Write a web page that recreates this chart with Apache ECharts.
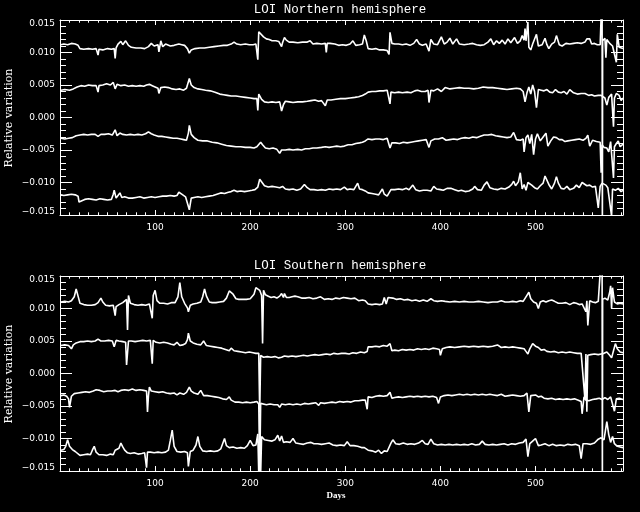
<!DOCTYPE html>
<html>
<head>
<meta charset="utf-8">
<script src="https://cdn.jsdelivr.net/npm/echarts@6/dist/echarts.min.js"></script>
<style>
html,body{margin:0;padding:0;background:#000;}
#chart{width:640px;height:512px;}
</style>
</head>
<body>
<div id="chart"></div>
<script>
// ---- Data (days, relative variation) ----
const titles = ['LOI Northern hemisphere', 'LOI Southern hemisphere'];
const yAxisTitle = 'Relative variation';
const xAxisTitle = 'Days';
const xLabelDays = [100, 200, 300, 400, 500];
const yLabelValues = [-0.015, -0.010, -0.005, 0.000, 0.005, 0.010, 0.015];

// Northern hemisphere, series 1..4 (top to bottom)
const north1 = [[1,0.0112],[4,0.0113],[8,0.0112],[12,0.0114],[16,0.0113],[19,0.0111],[21,0.0106],[25,0.0105],[30,0.0106],[34,0.0105],[38,0.0106],[40,0.0096],[41,0.0105],[45,0.0104],[50,0.0106],[54,0.0105],[57,0.0106],[58,0.0091],[59,0.0107],[61,0.0113],[64,0.0117],[66,0.0112],[69,0.0118],[72,0.0111],[75,0.0108],[80,0.0107],[85,0.0107],[89,0.0106],[93,0.0109],[96,0.0114],[99,0.0110],[103,0.0112],[104,0.0101],[106,0.0118],[108,0.0109],[111,0.0113],[116,0.0110],[120,0.0111],[125,0.0113],[128,0.0112],[131,0.0111],[134,0.0106],[136,0.0099],[138,0.0104],[142,0.0106],[147,0.0107],[152,0.0107],[157,0.0108],[162,0.0109],[167,0.0110],[172,0.0111],[176,0.0111],[180,0.0113],[183,0.0116],[186,0.0113],[190,0.0112],[195,0.0113],[199,0.0112],[203,0.0112],[206,0.0113],[208,0.0089],[209,0.0132],[211,0.0130],[214,0.0124],[217,0.0121],[220,0.0120],[223,0.0118],[227,0.0118],[230,0.0117],[233,0.0109],[234,0.0115],[236,0.0123],[238,0.0119],[241,0.0116],[245,0.0116],[250,0.0115],[255,0.0116],[260,0.0116],[263,0.0118],[266,0.0113],[270,0.0114],[275,0.0113],[279,0.0114],[280,0.0100],[281,0.0114],[284,0.0114],[289,0.0113],[293,0.0111],[297,0.0112],[301,0.0111],[305,0.0113],[308,0.0118],[311,0.0111],[315,0.0112],[318,0.0113],[320,0.0127],[322,0.0118],[324,0.0106],[328,0.0105],[332,0.0106],[336,0.0104],[340,0.0104],[344,0.0103],[346,0.0097],[347,0.0131],[349,0.0114],[352,0.0113],[356,0.0113],[360,0.0112],[364,0.0113],[368,0.0111],[372,0.0114],[375,0.0120],[378,0.0113],[381,0.0111],[385,0.0113],[388,0.0102],[390,0.0120],[393,0.0113],[397,0.0112],[401,0.0124],[404,0.0113],[407,0.0116],[410,0.0122],[413,0.0113],[417,0.0121],[420,0.0113],[425,0.0112],[430,0.0113],[434,0.0114],[438,0.0112],[442,0.0111],[446,0.0112],[450,0.0116],[453,0.0121],[456,0.0112],[459,0.0118],[462,0.0114],[465,0.0119],[468,0.0113],[471,0.0121],[474,0.0115],[478,0.0123],[481,0.0114],[484,0.0118],[486,0.0126],[488,0.0119],[489,0.0137],[490,0.0118],[492,0.0147],[493,0.0108],[495,0.0104],[497,0.0113],[499,0.0111],[501,0.0128],[503,0.0110],[505,0.0109],[507,0.0112],[510,0.0122],[512,0.0112],[514,0.0106],[517,0.0113],[520,0.0116],[522,0.0126],[525,0.0112],[528,0.0110],[532,0.0114],[536,0.0113],[540,0.0114],[544,0.0115],[548,0.0114],[552,0.0116],[554,0.0121],[557,0.0121],[559,0.0113],[562,0.0114],[565,0.0112],[568,0.0112],[570,0.0200],[570.3,-0.0200],[570.6,0.0118],[573,0.0122],[574,0.0092],[575,0.0120],[578,0.0114],[581,0.0110],[583,0.0108],[585,0.0085],[586,0.0128],[588,0.0108],[590,0.0110],[592,0.0106]];

const north2 = [[1,0.0042],[5,0.0043],[10,0.0042],[14,0.0044],[18,0.0047],[22,0.0049],[26,0.0048],[30,0.0050],[34,0.0049],[38,0.0049],[40,0.0039],[41,0.0049],[45,0.0050],[49,0.0052],[53,0.0050],[56,0.0054],[58,0.0044],[60,0.0051],[64,0.0049],[68,0.0050],[72,0.0048],[76,0.0049],[80,0.0048],[84,0.0049],[88,0.0048],[91,0.0050],[94,0.0051],[97,0.0049],[100,0.0047],[103,0.0045],[104,0.0037],[106,0.0046],[110,0.0047],[114,0.0046],[118,0.0044],[122,0.0043],[126,0.0044],[130,0.0042],[133,0.0045],[136,0.0060],[138,0.0050],[141,0.0046],[145,0.0044],[149,0.0043],[153,0.0042],[158,0.0041],[163,0.0039],[168,0.0036],[172,0.0035],[176,0.0034],[180,0.0033],[185,0.0033],[190,0.0032],[195,0.0031],[200,0.0030],[204,0.0029],[207,0.0029],[208,0.0011],[209,0.0036],[212,0.0028],[215,0.0024],[219,0.0023],[223,0.0024],[227,0.0023],[231,0.0024],[233,0.0010],[235,0.0020],[237,0.0025],[241,0.0024],[245,0.0023],[250,0.0024],[255,0.0024],[260,0.0025],[264,0.0026],[268,0.0027],[272,0.0025],[275,0.0026],[279,0.0018],[281,0.0027],[285,0.0027],[290,0.0028],[295,0.0029],[300,0.0029],[305,0.0030],[310,0.0031],[314,0.0032],[318,0.0034],[321,0.0036],[324,0.0039],[328,0.0040],[332,0.0040],[336,0.0041],[340,0.0041],[344,0.0042],[346,0.0044],[347,0.0021],[348,0.0039],[352,0.0038],[356,0.0039],[360,0.0038],[365,0.0039],[369,0.0038],[373,0.0041],[376,0.0042],[380,0.0040],[384,0.0040],[387,0.0042],[388,0.0023],[390,0.0042],[393,0.0041],[397,0.0044],[401,0.0040],[405,0.0046],[410,0.0044],[415,0.0045],[420,0.0046],[425,0.0045],[430,0.0045],[435,0.0044],[440,0.0045],[445,0.0047],[450,0.0046],[455,0.0046],[460,0.0045],[465,0.0044],[470,0.0043],[475,0.0044],[480,0.0045],[484,0.0044],[487,0.0040],[489,0.0024],[491,0.0038],[493,0.0047],[495,0.0036],[497,0.0050],[499,0.0040],[501,0.0015],[503,0.0043],[506,0.0042],[509,0.0041],[512,0.0043],[515,0.0039],[518,0.0038],[521,0.0043],[524,0.0039],[527,0.0038],[530,0.0040],[533,0.0036],[536,0.0043],[540,0.0038],[544,0.0036],[548,0.0037],[552,0.0037],[556,0.0034],[559,0.0035],[562,0.0033],[566,0.0034],[569,0.0034],[573,0.0030],[575,0.0019],[577,0.0031],[580,0.0036],[582,-0.0014],[583,0.0030],[585,0.0037],[588,0.0034],[590,0.0026],[592,0.0030]];

const north3 = [[1,-0.0032],[5,-0.0033],[9,-0.0032],[13,-0.0031],[17,-0.0028],[21,-0.0027],[25,-0.0026],[29,-0.0027],[33,-0.0026],[37,-0.0026],[40,-0.0029],[43,-0.0026],[47,-0.0026],[51,-0.0025],[55,-0.0027],[58,-0.0019],[60,-0.0028],[63,-0.0024],[66,-0.0026],[70,-0.0027],[74,-0.0026],[78,-0.0027],[82,-0.0026],[86,-0.0027],[90,-0.0025],[93,-0.0022],[96,-0.0025],[99,-0.0027],[103,-0.0029],[107,-0.0029],[111,-0.0030],[115,-0.0031],[119,-0.0032],[123,-0.0032],[127,-0.0033],[130,-0.0034],[133,-0.0035],[135,-0.0024],[136,-0.0012],[138,-0.0026],[141,-0.0031],[145,-0.0035],[150,-0.0036],[155,-0.0036],[160,-0.0038],[165,-0.0039],[170,-0.0041],[175,-0.0043],[180,-0.0044],[185,-0.0045],[190,-0.0045],[195,-0.0046],[200,-0.0046],[204,-0.0047],[207,-0.0045],[209,-0.0043],[211,-0.0038],[213,-0.0042],[216,-0.0047],[220,-0.0048],[224,-0.0047],[228,-0.0049],[231,-0.0055],[233,-0.0050],[237,-0.0050],[241,-0.0049],[245,-0.0050],[250,-0.0049],[254,-0.0050],[258,-0.0048],[262,-0.0048],[266,-0.0047],[270,-0.0047],[275,-0.0046],[279,-0.0045],[283,-0.0046],[287,-0.0045],[291,-0.0044],[295,-0.0045],[299,-0.0044],[303,-0.0042],[307,-0.0042],[311,-0.0040],[315,-0.0039],[318,-0.0038],[321,-0.0036],[324,-0.0033],[328,-0.0034],[332,-0.0033],[336,-0.0033],[340,-0.0034],[344,-0.0032],[346,-0.0031],[347,-0.0047],[349,-0.0039],[353,-0.0039],[357,-0.0040],[361,-0.0038],[365,-0.0039],[369,-0.0038],[373,-0.0037],[377,-0.0036],[381,-0.0035],[385,-0.0034],[387,-0.0037],[388,-0.0046],[390,-0.0036],[394,-0.0033],[398,-0.0033],[402,-0.0031],[406,-0.0035],[410,-0.0034],[414,-0.0033],[418,-0.0034],[422,-0.0032],[426,-0.0031],[430,-0.0032],[434,-0.0030],[438,-0.0031],[442,-0.0029],[446,-0.0027],[450,-0.0027],[454,-0.0026],[458,-0.0028],[462,-0.0029],[466,-0.0030],[470,-0.0031],[474,-0.0030],[477,-0.0023],[480,-0.0034],[484,-0.0035],[487,-0.0033],[488,-0.0053],[490,-0.0031],[492,-0.0027],[494,-0.0040],[496,-0.0026],[498,-0.0057],[500,-0.0033],[502,-0.0025],[505,-0.0036],[508,-0.0030],[511,-0.0024],[513,-0.0044],[516,-0.0036],[519,-0.0030],[522,-0.0031],[525,-0.0034],[528,-0.0034],[531,-0.0037],[534,-0.0036],[538,-0.0035],[542,-0.0034],[546,-0.0033],[550,-0.0035],[553,-0.0032],[555,-0.0027],[557,-0.0044],[560,-0.0035],[564,-0.0037],[566,-0.0036],[568,-0.0038],[569,-0.0085],[570,-0.0042],[572,-0.0046],[575,-0.0047],[577,-0.0053],[579,-0.0037],[581,-0.0036],[582,-0.0093],[583,-0.0045],[585,-0.0040],[587,-0.0036],[589,-0.0045],[592,-0.0041]];

const north4 = [[1,-0.0119],[4,-0.0120],[8,-0.0119],[12,-0.0118],[16,-0.0119],[19,-0.0121],[20,-0.0130],[22,-0.0127],[26,-0.0126],[30,-0.0125],[34,-0.0126],[38,-0.0127],[42,-0.0125],[46,-0.0126],[50,-0.0127],[54,-0.0126],[56,-0.0118],[57,-0.0112],[59,-0.0124],[61,-0.0120],[63,-0.0116],[65,-0.0123],[68,-0.0122],[70,-0.0119],[72,-0.0124],[76,-0.0124],[80,-0.0123],[84,-0.0122],[88,-0.0124],[92,-0.0123],[96,-0.0122],[100,-0.0123],[104,-0.0122],[108,-0.0121],[112,-0.0121],[116,-0.0120],[120,-0.0121],[123,-0.0120],[125,-0.0115],[128,-0.0118],[132,-0.0122],[134,-0.0123],[136,-0.0142],[138,-0.0124],[141,-0.0123],[145,-0.0122],[149,-0.0123],[153,-0.0122],[157,-0.0121],[161,-0.0120],[165,-0.0118],[169,-0.0116],[173,-0.0117],[177,-0.0115],[180,-0.0114],[183,-0.0112],[186,-0.0114],[190,-0.0113],[194,-0.0114],[198,-0.0113],[202,-0.0112],[205,-0.0111],[208,-0.0107],[210,-0.0095],[212,-0.0098],[215,-0.0105],[219,-0.0107],[223,-0.0106],[227,-0.0107],[231,-0.0108],[234,-0.0106],[237,-0.0110],[241,-0.0111],[245,-0.0110],[249,-0.0112],[253,-0.0110],[257,-0.0103],[260,-0.0108],[263,-0.0111],[267,-0.0111],[271,-0.0112],[275,-0.0111],[279,-0.0112],[283,-0.0110],[287,-0.0111],[291,-0.0110],[295,-0.0111],[299,-0.0107],[302,-0.0111],[305,-0.0110],[309,-0.0111],[313,-0.0101],[315,-0.0110],[318,-0.0111],[321,-0.0113],[324,-0.0116],[328,-0.0117],[332,-0.0118],[335,-0.0119],[337,-0.0122],[339,-0.0110],[341,-0.0118],[344,-0.0121],[346,-0.0122],[348,-0.0111],[352,-0.0111],[356,-0.0110],[360,-0.0111],[364,-0.0109],[367,-0.0111],[371,-0.0104],[374,-0.0111],[378,-0.0113],[382,-0.0112],[386,-0.0112],[390,-0.0113],[393,-0.0106],[396,-0.0110],[400,-0.0111],[403,-0.0112],[407,-0.0109],[411,-0.0109],[415,-0.0111],[419,-0.0113],[422,-0.0112],[426,-0.0114],[430,-0.0113],[434,-0.0110],[436,-0.0106],[439,-0.0111],[443,-0.0112],[446,-0.0104],[449,-0.0099],[452,-0.0108],[456,-0.0110],[460,-0.0111],[464,-0.0109],[468,-0.0110],[472,-0.0107],[475,-0.0103],[477,-0.0098],[479,-0.0105],[482,-0.0099],[484,-0.0085],[486,-0.0110],[488,-0.0103],[490,-0.0112],[492,-0.0100],[494,-0.0097],[496,-0.0104],[499,-0.0108],[502,-0.0110],[505,-0.0105],[508,-0.0101],[510,-0.0090],[512,-0.0087],[514,-0.0103],[517,-0.0110],[520,-0.0101],[522,-0.0091],[524,-0.0101],[527,-0.0109],[530,-0.0110],[533,-0.0106],[536,-0.0111],[540,-0.0109],[543,-0.0104],[546,-0.0108],[549,-0.0100],[551,-0.0103],[554,-0.0105],[557,-0.0104],[560,-0.0107],[563,-0.0106],[565,-0.0109],[566,-0.0139],[568,-0.0106],[570,-0.0101],[572,-0.0101],[574,-0.0104],[576,-0.0108],[578,-0.0110],[580,-0.0152],[581,-0.0110],[584,-0.0112],[587,-0.0109],[590,-0.0114],[592,-0.0112]];

// Southern hemisphere, series 1..4 (top to bottom)
const south1 = [[1,0.0110],[5,0.0111],[9,0.0110],[12,0.0112],[15,0.0118],[17,0.0130],[19,0.0119],[21,0.0108],[25,0.0106],[29,0.0105],[33,0.0105],[37,0.0106],[40,0.0109],[43,0.0116],[45,0.0110],[48,0.0105],[52,0.0104],[56,0.0105],[58,0.0089],[59,0.0103],[62,0.0106],[66,0.0109],[68,0.0110],[70,0.0114],[71,0.0067],[72,0.0120],[74,0.0108],[78,0.0106],[82,0.0105],[86,0.0106],[90,0.0105],[94,0.0107],[96,0.0110],[97,0.0085],[98,0.0120],[100,0.0128],[102,0.0112],[105,0.0108],[109,0.0108],[113,0.0107],[117,0.0109],[121,0.0109],[124,0.0118],[126,0.0140],[128,0.0118],[131,0.0108],[134,0.0101],[135,0.0095],[137,0.0105],[140,0.0107],[144,0.0108],[148,0.0110],[150,0.0118],[152,0.0130],[154,0.0119],[157,0.0110],[160,0.0109],[164,0.0109],[168,0.0110],[172,0.0111],[175,0.0116],[178,0.0127],[180,0.0130],[182,0.0122],[185,0.0115],[188,0.0114],[192,0.0114],[196,0.0114],[200,0.0115],[204,0.0122],[206,0.0132],[208,0.0134],[210,0.0128],[212,0.0120],[213,0.0046],[214,0.0128],[216,0.0121],[219,0.0119],[222,0.0117],[225,0.0118],[228,0.0116],[231,0.0119],[233,0.0123],[235,0.0117],[236,0.0123],[238,0.0117],[241,0.0117],[244,0.0118],[247,0.0119],[250,0.0118],[254,0.0116],[258,0.0116],[262,0.0117],[266,0.0115],[270,0.0116],[274,0.0118],[278,0.0114],[282,0.0115],[286,0.0114],[290,0.0116],[294,0.0115],[298,0.0117],[302,0.0116],[306,0.0115],[310,0.0116],[314,0.0112],[318,0.0113],[321,0.0112],[324,0.0107],[328,0.0106],[332,0.0107],[336,0.0106],[339,0.0107],[341,0.0117],[343,0.0107],[345,0.0117],[347,0.0114],[350,0.0116],[354,0.0114],[358,0.0115],[362,0.0113],[366,0.0114],[370,0.0112],[374,0.0113],[378,0.0111],[382,0.0113],[386,0.0111],[390,0.0115],[393,0.0112],[397,0.0111],[401,0.0112],[405,0.0111],[410,0.0110],[415,0.0111],[420,0.0110],[425,0.0111],[430,0.0110],[435,0.0110],[440,0.0111],[445,0.0110],[450,0.0109],[455,0.0110],[460,0.0110],[464,0.0112],[468,0.0110],[472,0.0110],[476,0.0111],[480,0.0110],[484,0.0112],[487,0.0111],[490,0.0118],[493,0.0125],[495,0.0115],[498,0.0110],[501,0.0108],[503,0.0100],[505,0.0110],[508,0.0112],[511,0.0110],[514,0.0112],[517,0.0113],[520,0.0111],[524,0.0108],[528,0.0108],[532,0.0109],[536,0.0106],[540,0.0109],[543,0.0108],[546,0.0106],[549,0.0107],[551,0.0106],[553,0.0095],[554,0.0112],[555,0.0074],[557,0.0112],[560,0.0110],[563,0.0109],[566,0.0111],[568,0.0114],[570,0.0200],[570.3,-0.0200],[570.6,0.0114],[573,0.0116],[576,0.0113],[578,0.0125],[579,0.0135],[580,0.0100],[581,0.0132],[583,0.0110],[586,0.0107],[589,0.0108],[592,0.0107]];

const south2 = [[1,0.0043],[5,0.0044],[9,0.0043],[12,0.0038],[14,0.0044],[17,0.0047],[21,0.0049],[25,0.0049],[29,0.0050],[33,0.0049],[37,0.0050],[40,0.0053],[43,0.0050],[47,0.0050],[51,0.0051],[55,0.0050],[57,0.0041],[59,0.0051],[62,0.0050],[66,0.0049],[69,0.0048],[70,0.0013],[72,0.0050],[75,0.0050],[79,0.0049],[83,0.0050],[87,0.0051],[91,0.0050],[95,0.0051],[97,0.0015],[98,0.0051],[101,0.0048],[105,0.0047],[109,0.0048],[113,0.0047],[117,0.0045],[120,0.0044],[123,0.0048],[126,0.0043],[129,0.0044],[132,0.0046],[134,0.0052],[135,0.0062],[137,0.0050],[140,0.0047],[144,0.0045],[148,0.0044],[151,0.0050],[154,0.0043],[158,0.0042],[162,0.0041],[166,0.0040],[170,0.0039],[174,0.0037],[178,0.0035],[180,0.0039],[183,0.0035],[187,0.0034],[191,0.0033],[195,0.0032],[199,0.0033],[203,0.0032],[206,0.0031],[208,0.0033],[209,0.0031],[210,-0.0060],[211,0.0028],[214,0.0025],[218,0.0026],[222,0.0025],[226,0.0026],[230,0.0024],[233,0.0025],[236,0.0027],[240,0.0026],[244,0.0027],[248,0.0026],[252,0.0027],[256,0.0028],[260,0.0027],[264,0.0028],[268,0.0029],[272,0.0028],[276,0.0029],[280,0.0030],[284,0.0029],[288,0.0031],[292,0.0030],[296,0.0031],[300,0.0031],[304,0.0030],[308,0.0032],[312,0.0031],[316,0.0033],[320,0.0032],[323,0.0034],[324,0.0041],[328,0.0041],[332,0.0042],[336,0.0041],[340,0.0043],[344,0.0042],[347,0.0046],[348,0.0049],[349,0.0035],[352,0.0036],[356,0.0035],[360,0.0037],[364,0.0036],[368,0.0037],[372,0.0036],[376,0.0038],[380,0.0037],[384,0.0038],[388,0.0037],[392,0.0039],[396,0.0038],[399,0.0037],[400,0.0028],[402,0.0038],[406,0.0040],[410,0.0041],[415,0.0040],[420,0.0041],[425,0.0042],[430,0.0041],[435,0.0042],[440,0.0041],[445,0.0042],[450,0.0041],[455,0.0042],[460,0.0044],[464,0.0040],[468,0.0041],[472,0.0040],[476,0.0041],[480,0.0040],[484,0.0039],[488,0.0038],[490,0.0034],[492,0.0030],[494,0.0038],[497,0.0046],[500,0.0042],[503,0.0040],[506,0.0036],[509,0.0037],[512,0.0034],[516,0.0033],[520,0.0034],[524,0.0032],[528,0.0033],[532,0.0032],[536,0.0033],[540,0.0032],[544,0.0031],[548,0.0031],[550,0.0030],[552,-0.0040],[553,0.0030],[554,-0.0059],[555,0.0028],[558,0.0029],[562,0.0030],[566,0.0029],[569,0.0030],[572,0.0031],[575,0.0033],[578,0.0028],[580,0.0024],[582,0.0035],[584,0.0046],[586,0.0038],[589,0.0033],[592,0.0032]];

const south3 = [[1,-0.0034],[4,-0.0033],[7,-0.0035],[9,-0.0039],[10,-0.0052],[12,-0.0035],[15,-0.0031],[19,-0.0030],[23,-0.0029],[27,-0.0028],[31,-0.0029],[35,-0.0027],[38,-0.0025],[40,-0.0022],[42,-0.0026],[46,-0.0028],[50,-0.0027],[54,-0.0027],[58,-0.0026],[61,-0.0028],[64,-0.0026],[68,-0.0025],[72,-0.0026],[76,-0.0024],[80,-0.0026],[84,-0.0025],[88,-0.0026],[91,-0.0027],[92,-0.0059],[93,-0.0034],[94,-0.0021],[96,-0.0027],[100,-0.0028],[104,-0.0029],[108,-0.0028],[112,-0.0030],[116,-0.0031],[120,-0.0030],[123,-0.0033],[126,-0.0030],[130,-0.0032],[133,-0.0029],[136,-0.0021],[138,-0.0027],[141,-0.0030],[145,-0.0032],[148,-0.0026],[151,-0.0034],[155,-0.0034],[159,-0.0035],[163,-0.0036],[167,-0.0037],[171,-0.0039],[175,-0.0040],[178,-0.0036],[180,-0.0041],[184,-0.0044],[188,-0.0044],[192,-0.0045],[196,-0.0044],[200,-0.0045],[204,-0.0044],[207,-0.0043],[209,-0.0047],[210,-0.0150],[211,-0.0046],[213,-0.0047],[217,-0.0048],[221,-0.0047],[225,-0.0048],[229,-0.0048],[231,-0.0052],[233,-0.0047],[237,-0.0048],[241,-0.0047],[245,-0.0048],[249,-0.0047],[253,-0.0048],[257,-0.0046],[261,-0.0047],[265,-0.0046],[269,-0.0045],[272,-0.0049],[274,-0.0045],[278,-0.0046],[282,-0.0045],[286,-0.0044],[290,-0.0045],[294,-0.0043],[298,-0.0044],[302,-0.0043],[306,-0.0044],[310,-0.0042],[314,-0.0042],[318,-0.0041],[321,-0.0041],[323,-0.0055],[324,-0.0036],[328,-0.0037],[332,-0.0035],[336,-0.0034],[340,-0.0035],[344,-0.0034],[347,-0.0029],[349,-0.0038],[352,-0.0037],[356,-0.0036],[360,-0.0037],[364,-0.0036],[368,-0.0035],[372,-0.0036],[376,-0.0035],[380,-0.0036],[384,-0.0035],[388,-0.0036],[392,-0.0035],[396,-0.0037],[398,-0.0046],[400,-0.0036],[404,-0.0034],[408,-0.0033],[412,-0.0034],[416,-0.0033],[420,-0.0032],[424,-0.0033],[428,-0.0032],[432,-0.0033],[436,-0.0032],[440,-0.0033],[444,-0.0032],[448,-0.0033],[452,-0.0032],[456,-0.0033],[460,-0.0034],[464,-0.0032],[468,-0.0035],[472,-0.0034],[476,-0.0033],[480,-0.0034],[484,-0.0035],[488,-0.0034],[491,-0.0030],[493,-0.0059],[495,-0.0034],[497,-0.0031],[500,-0.0033],[503,-0.0036],[506,-0.0035],[509,-0.0038],[513,-0.0039],[517,-0.0038],[521,-0.0040],[525,-0.0039],[529,-0.0040],[533,-0.0039],[537,-0.0040],[541,-0.0039],[545,-0.0041],[548,-0.0043],[549,-0.0062],[551,-0.0036],[553,-0.0041],[556,-0.0042],[560,-0.0040],[564,-0.0039],[567,-0.0038],[570,-0.0040],[573,-0.0037],[576,-0.0040],[579,-0.0036],[581,-0.0034],[583,-0.0058],[585,-0.0039],[588,-0.0038],[592,-0.0040]];

const south4 = [[1,-0.0118],[4,-0.0117],[6,-0.0112],[8,-0.0102],[10,-0.0112],[13,-0.0117],[16,-0.0120],[18,-0.0123],[21,-0.0126],[25,-0.0125],[29,-0.0124],[32,-0.0125],[34,-0.0118],[36,-0.0112],[38,-0.0121],[41,-0.0125],[45,-0.0125],[49,-0.0126],[53,-0.0124],[56,-0.0125],[58,-0.0118],[60,-0.0121],[62,-0.0115],[64,-0.0107],[66,-0.0113],[68,-0.0118],[71,-0.0122],[74,-0.0123],[78,-0.0122],[82,-0.0124],[86,-0.0123],[89,-0.0122],[91,-0.0145],[92,-0.0121],[95,-0.0121],[99,-0.0122],[103,-0.0121],[107,-0.0122],[111,-0.0121],[114,-0.0118],[116,-0.0103],[118,-0.0087],[120,-0.0112],[123,-0.0120],[127,-0.0121],[131,-0.0120],[134,-0.0122],[135,-0.0143],[137,-0.0120],[140,-0.0118],[143,-0.0110],[145,-0.0097],[147,-0.0112],[150,-0.0119],[154,-0.0120],[158,-0.0119],[162,-0.0120],[166,-0.0119],[169,-0.0116],[171,-0.0108],[173,-0.0100],[175,-0.0111],[178,-0.0114],[182,-0.0113],[186,-0.0115],[190,-0.0114],[194,-0.0115],[197,-0.0111],[200,-0.0103],[203,-0.0111],[206,-0.0110],[208,-0.0093],[209,-0.0155],[210,-0.0100],[211,-0.0155],[212,-0.0097],[215,-0.0102],[219,-0.0103],[223,-0.0104],[226,-0.0102],[229,-0.0095],[231,-0.0104],[233,-0.0096],[235,-0.0106],[238,-0.0105],[242,-0.0106],[245,-0.0100],[248,-0.0107],[252,-0.0108],[256,-0.0109],[260,-0.0107],[264,-0.0106],[267,-0.0108],[271,-0.0108],[275,-0.0109],[279,-0.0108],[283,-0.0107],[287,-0.0110],[291,-0.0111],[295,-0.0110],[299,-0.0111],[302,-0.0105],[305,-0.0111],[309,-0.0111],[313,-0.0112],[317,-0.0114],[320,-0.0114],[324,-0.0118],[328,-0.0119],[332,-0.0121],[335,-0.0118],[338,-0.0123],[341,-0.0119],[344,-0.0120],[346,-0.0119],[348,-0.0107],[350,-0.0102],[353,-0.0108],[357,-0.0109],[361,-0.0107],[365,-0.0109],[369,-0.0108],[373,-0.0109],[377,-0.0107],[381,-0.0103],[384,-0.0108],[387,-0.0109],[390,-0.0101],[393,-0.0108],[397,-0.0110],[401,-0.0109],[405,-0.0110],[409,-0.0109],[413,-0.0110],[417,-0.0109],[421,-0.0110],[425,-0.0109],[429,-0.0110],[433,-0.0108],[437,-0.0110],[441,-0.0109],[444,-0.0104],[447,-0.0109],[451,-0.0110],[455,-0.0109],[459,-0.0110],[463,-0.0109],[467,-0.0108],[471,-0.0110],[475,-0.0108],[479,-0.0109],[483,-0.0107],[487,-0.0106],[490,-0.0101],[492,-0.0128],[494,-0.0108],[497,-0.0104],[500,-0.0100],[503,-0.0111],[506,-0.0110],[510,-0.0108],[514,-0.0111],[518,-0.0109],[522,-0.0111],[526,-0.0110],[530,-0.0111],[534,-0.0109],[538,-0.0110],[542,-0.0109],[546,-0.0111],[548,-0.0131],[550,-0.0108],[554,-0.0108],[558,-0.0109],[562,-0.0107],[566,-0.0101],[569,-0.0099],[572,-0.0102],[575,-0.0074],[577,-0.0094],[579,-0.0106],[581,-0.0097],[583,-0.0108],[586,-0.0112],[589,-0.0113],[592,-0.0114]];

const panels = [[north1, north2, north3, north4], [south1, south2, south3, south4]];

// ---- Chart ----
const WHITE = '#ffffff';
const X_MIN = 0, X_MAX = 592;
const gridTops = [20, 276];

function fmtY(v) {
  const s = (v < -1e-9 ? '\u2212' : '') + Math.abs(v).toFixed(3);
  if (v > 0.0149) return '{top|' + s + '}';
  if (v < -0.0149) return '{bot|' + s + '}';
  return s;
}
const labelFont = { color: WHITE, fontFamily: 'DejaVu Sans', fontSize: 9 };

const grids = [], xAxes = [], yAxes = [], series = [];
gridTops.forEach((top, g) => {
  grids.push({ left: 60, top: top, width: 563, height: 195, containLabel: false });
  const baseX = { gridIndex: g, type: 'value', min: X_MIN, max: X_MAX, splitLine: { show: false } };
  xAxes.push(Object.assign({}, baseX, {
    position: 'bottom', interval: 10,
    axisLine: { show: true, onZero: false, lineStyle: { color: WHITE, width: 1 } },
    axisTick: { show: true, inside: true, length: 2.7, lineStyle: { color: WHITE, width: 1 } },
    axisLabel: Object.assign({ show: true, margin: 8, showMinLabel: false, showMaxLabel: false,
      formatter: v => (xLabelDays.indexOf(v) >= 0 ? String(v) : '') }, labelFont)
  }));
  xAxes.push(Object.assign({}, baseX, {
    position: 'bottom', interval: 100,
    axisLine: { show: false, onZero: false },
    axisTick: { show: true, inside: true, length: 5, lineStyle: { color: WHITE, width: 1 } },
    axisLabel: { show: false }
  }));
  xAxes.push(Object.assign({}, baseX, {
    position: 'top', interval: 10,
    axisLine: { show: true, onZero: false, lineStyle: { color: WHITE, width: 1 } },
    axisTick: { show: true, inside: true, length: 2.7, lineStyle: { color: WHITE, width: 1 } },
    axisLabel: { show: false }
  }));
  xAxes.push(Object.assign({}, baseX, {
    position: 'top', interval: 100,
    axisLine: { show: false, onZero: false },
    axisTick: { show: true, inside: true, length: 5, lineStyle: { color: WHITE, width: 1 } },
    axisLabel: { show: false }
  }));
  const baseY = {
    gridIndex: g, type: 'value', min: yLabelValues[0], max: yLabelValues[yLabelValues.length - 1], interval: 0.005,
    splitLine: { show: false },
    axisLine: { show: true, onZero: false, lineStyle: { color: WHITE, width: 1 } },
    axisTick: { show: true, inside: true, length: 12, lineStyle: { color: WHITE, width: 1 } },
    minorTick: { show: true, splitNumber: 5, length: 6, lineStyle: { color: WHITE, width: 1 } }
  };
  yAxes.push(Object.assign({}, baseY, {
    position: 'left',
    axisLabel: Object.assign({ show: true, margin: 5, formatter: fmtY,
      rich: {
        top: { color: WHITE, fontFamily: 'DejaVu Sans', fontSize: 9, padding: [8, 0, 0, 0] },
        bot: { color: WHITE, fontFamily: 'DejaVu Sans', fontSize: 9, padding: [0, 0, 7, 0] }
      } }, labelFont)
  }));
  yAxes.push(Object.assign({}, baseY, { position: 'right', axisLabel: { show: false } }));

  panels[g].forEach((data, i) => {
    series.push({
      type: 'line', name: titles[g] + ' ' + (i + 1), data: data,
      xAxisIndex: g * 4, yAxisIndex: g * 2,
      showSymbol: false, symbol: 'none', clip: true, silent: true,
      lineStyle: { color: WHITE, width: 1.6 }
    });
  });
});

const graphic = [
  { type: 'text', x: 340, y: 10, style: { text: titles[0], fill: WHITE, font: '12.5px "Liberation Mono"', align: 'center', verticalAlign: 'middle', textAlign: 'center', textVerticalAlign: 'middle' } },
  { type: 'text', x: 340, y: 266, style: { text: titles[1], fill: WHITE, font: '12.5px "Liberation Mono"', align: 'center', verticalAlign: 'middle', textAlign: 'center', textVerticalAlign: 'middle' } },
  { type: 'text', x: 9, y: 118, rotation: Math.PI / 2, style: { text: yAxisTitle, fill: WHITE, font: '11px "DejaVu Serif"', align: 'center', verticalAlign: 'middle', textAlign: 'center', textVerticalAlign: 'middle' } },
  { type: 'text', x: 9, y: 374, rotation: Math.PI / 2, style: { text: yAxisTitle, fill: WHITE, font: '11px "DejaVu Serif"', align: 'center', verticalAlign: 'middle', textAlign: 'center', textVerticalAlign: 'middle' } },
  { type: 'text', x: 336, y: 496, style: { text: xAxisTitle, fill: WHITE, font: 'bold 9px "Liberation Serif"', align: 'center', verticalAlign: 'middle', textAlign: 'center', textVerticalAlign: 'middle' } }
];

const chart = echarts.init(document.getElementById('chart'), null, { renderer: 'canvas' });
chart.setOption({
  backgroundColor: '#000000',
  animation: false,
  grid: grids,
  xAxis: xAxes,
  yAxis: yAxes,
  series: series,
  graphic: graphic
});
</script>
</body>
</html>
